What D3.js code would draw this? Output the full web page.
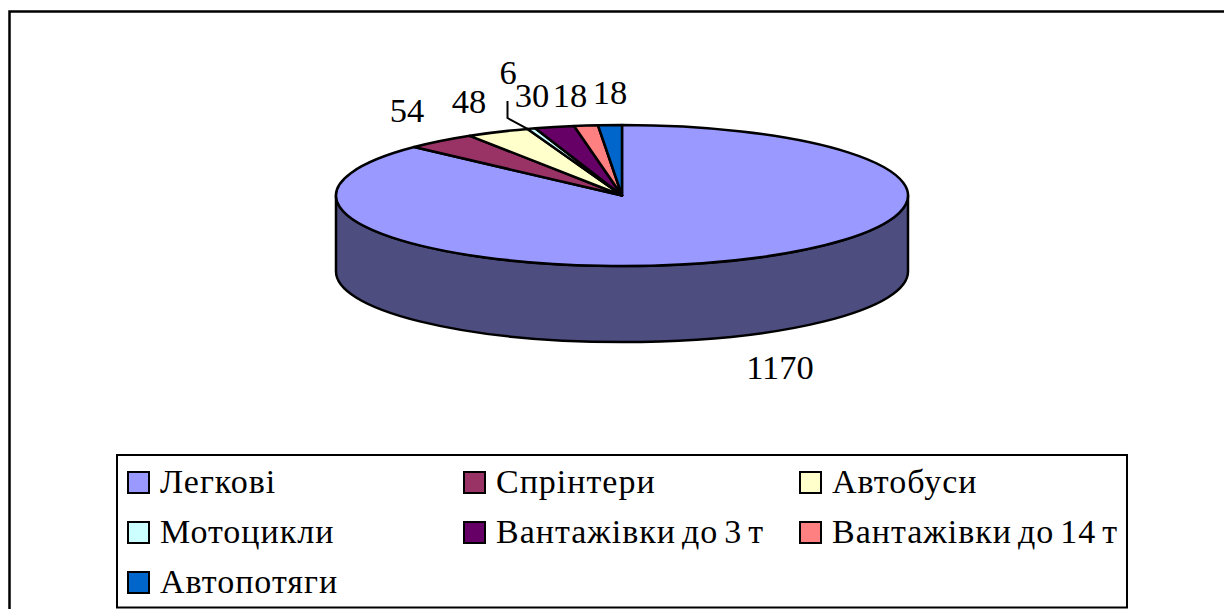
<!DOCTYPE html>
<html>
<head>
<meta charset="utf-8">
<script src="https://cdn.jsdelivr.net/npm/d3@7"></script>
<style>
html, body { margin: 0; padding: 0; background: #fff; overflow: hidden; }
text { font-family: "Liberation Serif", serif; fill: #000; }
</style>
</head>
<body>
<div id="graph"></div>
<script>
var categories = ["Легкові", "Спрінтери", "Автобуси", "Мотоцикли", "Вантажівки до 3 т", "Вантажівки до 14 т", "Автопотяги"]
var values = [1170, 54, 48, 6, 30, 18, 18]
var colors = ["#9999ff", "#993366", "#ffffcc", "#ccffff", "#660066", "#ff8080", "#0066cc"]

var width = 1224, height = 609
var cx = 622, cy = 195.5, rx = 286, ry = 70.5, depth = 76

// label anchor points, same order as values
var labelX = [780, 407, 469, 508, 532, 570, 610]
var labelY = [379, 122, 113, 84, 107, 107, 104]

var svg = d3.select("#graph").append("svg")
    .attr("width", width)
    .attr("height", height)
    .style("display", "block")

// outer frame, open on the right side
svg.append("path")
    .attr("d", "M9.5," + height + "V11.5H" + width)
    .attr("fill", "none")
    .attr("stroke", "#000")
    .attr("stroke-width", 2.5)

// side wall of the disc
svg.append("path")
    .attr("d", "M" + (cx - rx) + "," + cy + "V" + (cy + depth)
        + "A" + rx + "," + ry + " 0 0 0 " + (cx + rx) + "," + (cy + depth)
        + "V" + cy
        + "A" + rx + "," + ry + " 0 0 1 " + (cx - rx) + "," + cy + "Z")
    .attr("fill", "#4d4d80")
    .attr("stroke", "#000")
    .attr("stroke-width", 2.5)

var pie = d3.pie().sort(null).value(function(d) { return d })
var arc = d3.arc().innerRadius(0).outerRadius(rx)
var slices = pie(values)

var disc = svg.append("g")
    .attr("transform", "translate(" + [cx, cy] + ") scale(1," + (ry / rx) + ")")

disc.selectAll("path")
    .data(slices)
    .enter()
    .append("path")
    .attr("d", arc)
    .attr("fill", function(d, i) { return colors[i] })
    .attr("stroke", "#000")
    .attr("stroke-width", 2.5)
    .attr("stroke-linejoin", "round")
    .attr("vector-effect", "non-scaling-stroke")

// leader line for the small slice
var small = slices[3]
svg.append("path")
    .attr("d", "M" + 507.5 + ",101V118L" + (cx + rx * Math.sin(small.startAngle)) + "," + (cy - ry * Math.cos(small.startAngle)))
    .attr("fill", "none")
    .attr("stroke", "#000")
    .attr("stroke-width", 2)

svg.append("g").selectAll("text")
    .data(values)
    .enter()
    .append("text")
    .attr("x", function(d, i) { return labelX[i] })
    .attr("y", function(d, i) { return labelY[i] })
    .attr("text-anchor", "middle")
    .attr("font-size", 34.5)
    .text(function(d) { return d })

// legend
svg.append("rect")
    .attr("x", 117)
    .attr("y", 455)
    .attr("width", 1010)
    .attr("height", 152.5)
    .attr("fill", "#fff")
    .attr("stroke", "#000")
    .attr("stroke-width", 2)

var legendX = d3.scalePoint().domain([0, 1, 2]).range([128, 800])
var legendY = d3.scalePoint().domain([0, 1, 2]).range([472, 572])

var item = svg.append("g").selectAll("g")
    .data(categories)
    .enter()
    .append("g")
    .attr("transform", function(d, i) {
        return "translate(" + [legendX(i % 3), legendY(Math.floor(i / 3))] + ")"
    })

item.append("rect")
    .attr("width", 21)
    .attr("height", 21)
    .attr("fill", function(d, i) { return colors[i] })
    .attr("stroke", "#000")
    .attr("stroke-width", 2)

item.append("text")
    .attr("x", 32)
    .attr("y", 21)
    .attr("font-size", 34)
    .attr("letter-spacing", 1)
    .attr("word-spacing", -3.5)
    .text(function(d) { return d })
</script>
</body>
</html>
